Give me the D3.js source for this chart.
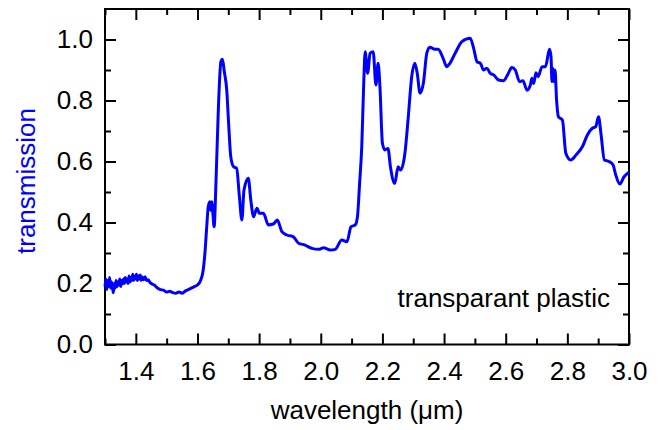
<!DOCTYPE html>
<html><head><meta charset="utf-8">
<script src="https://cdn.jsdelivr.net/npm/d3@7"></script>
<style>body{margin:0;background:#fff}text{font-family:"Liberation Sans",Arial,sans-serif}</style>
</head><body>
<script>
const wavelength = [1.300,1.303,1.306,1.309,1.312,1.315,1.318,1.321,1.324,1.327,1.330,1.333,1.336,1.339,1.342,1.345,1.348,1.351,1.354,1.357,1.360,1.363,1.366,1.369,1.372,1.375,1.378,1.381,1.384,1.387,1.390,1.393,1.396,1.399,1.402,1.405,1.408,1.411,1.414,1.417,1.420,1.425,1.430,1.435,1.440,1.445,1.450,1.460,1.470,1.480,1.490,1.500,1.510,1.520,1.530,1.540,1.550,1.560,1.570,1.580,1.590,1.600,1.610,1.618,1.625,1.630,1.635,1.640,1.643,1.647,1.650,1.654,1.660,1.668,1.676,1.681,1.687,1.695,1.701,1.708,1.717,1.727,1.736,1.744,1.751,1.765,1.773,1.782,1.793,1.801,1.814,1.830,1.846,1.859,1.874,1.890,1.911,1.928,1.949,1.971,1.993,2.009,2.031,2.047,2.068,2.085,2.098,2.112,2.119,2.126,2.133,2.139,2.144,2.152,2.160,2.170,2.179,2.186,2.192,2.200,2.208,2.218,2.226,2.240,2.251,2.259,2.273,2.284,2.295,2.305,2.313,2.322,2.333,2.344,2.354,2.370,2.381,2.397,2.409,2.419,2.436,2.458,2.485,2.496,2.507,2.518,2.528,2.539,2.550,2.561,2.577,2.593,2.606,2.620,2.631,2.645,2.656,2.669,2.680,2.685,2.691,2.698,2.705,2.718,2.729,2.742,2.747,2.750,2.753,2.756,2.760,2.765,2.771,2.784,2.795,2.811,2.828,2.849,2.865,2.881,2.892,2.901,2.909,2.920,2.935,2.948,2.957,2.970,2.984,3.000];
const transmission = [0.19,0.215,0.18,0.21,0.19,0.22,0.185,0.205,0.19,0.17,0.20,0.185,0.21,0.19,0.205,0.195,0.215,0.19,0.21,0.2,0.215,0.2,0.22,0.205,0.215,0.2,0.225,0.205,0.22,0.21,0.23,0.21,0.225,0.215,0.23,0.21,0.225,0.215,0.228,0.21,0.222,0.212,0.222,0.21,0.212,0.205,0.20,0.195,0.185,0.18,0.178,0.172,0.175,0.17,0.168,0.172,0.168,0.175,0.18,0.185,0.19,0.195,0.21,0.24,0.31,0.386,0.452,0.468,0.44,0.468,0.43,0.386,0.53,0.78,0.927,0.935,0.895,0.834,0.726,0.616,0.583,0.578,0.485,0.408,0.507,0.545,0.474,0.419,0.447,0.43,0.43,0.392,0.395,0.408,0.37,0.359,0.353,0.332,0.326,0.315,0.312,0.317,0.31,0.312,0.343,0.337,0.386,0.392,0.419,0.528,0.649,0.845,0.96,0.889,0.955,0.96,0.851,0.922,0.845,0.66,0.638,0.643,0.583,0.528,0.583,0.572,0.627,0.747,0.878,0.922,0.889,0.824,0.857,0.955,0.975,0.968,0.968,0.938,0.911,0.922,0.955,0.993,1.004,0.971,0.927,0.922,0.90,0.906,0.889,0.884,0.867,0.865,0.884,0.908,0.90,0.862,0.865,0.834,0.851,0.873,0.856,0.891,0.878,0.911,0.911,0.968,0.944,0.862,0.906,0.862,0.90,0.802,0.747,0.736,0.627,0.605,0.621,0.649,0.687,0.709,0.714,0.747,0.692,0.605,0.60,0.589,0.556,0.526,0.55,0.565];
const xTicks = [1.4,1.6,1.8,2.0,2.2,2.4,2.6,2.8,3.0];
const yTicks = [0.0,0.2,0.4,0.6,0.8,1.0];
const xMinor = [1.3,1.5,1.7,1.9,2.1,2.3,2.5,2.7,2.9];
const yMinor = [0.1,0.3,0.5,0.7,0.9];
const xLabel = "wavelength (μm)";
const yLabel = "transmission";
const note = "transparant plastic";

const W = 662, H = 430;
const m = {l:105, r:33, t:9, b:85.5};
const svg = d3.select("body").append("svg").attr("width",W).attr("height",H);
const x = d3.scaleLinear().domain([1.3,3.0]).range([m.l, W-m.r]);
const y = d3.scaleLinear().domain([0,1.1]).range([H-m.b, m.t]);
const fs = 26;

function ax(gen, tr){ return svg.append("g").attr("transform",tr).call(gen); }
function style(g){ g.select(".domain").remove(); g.selectAll("line").attr("stroke","#000").attr("stroke-width",2); g.selectAll("text").attr("font-size",fs).attr("fill","#000"); }
style(ax(d3.axisBottom(x).tickValues(xTicks).tickSize(-11).tickPadding(17).tickFormat(d3.format(".1f")), `translate(0,${y(0)})`));
style(ax(d3.axisBottom(x).tickValues(xMinor).tickSize(-6).tickFormat(""), `translate(0,${y(0)})`));
style(ax(d3.axisTop(x).tickValues(xTicks).tickSize(-11).tickFormat(""), `translate(0,${m.t})`));
style(ax(d3.axisTop(x).tickValues(xMinor).tickSize(-6).tickFormat(""), `translate(0,${m.t})`));
style(ax(d3.axisLeft(y).tickValues(yTicks).tickSize(-11).tickPadding(12).tickFormat(d3.format(".1f")), `translate(${m.l},0)`));
style(ax(d3.axisLeft(y).tickValues(yMinor).tickSize(-6).tickFormat(""), `translate(${m.l},0)`));
style(ax(d3.axisRight(y).tickValues(yTicks).tickSize(-11).tickFormat(""), `translate(${W-m.r},0)`));
style(ax(d3.axisRight(y).tickValues(yMinor).tickSize(-6).tickFormat(""), `translate(${W-m.r},0)`));

svg.append("rect").attr("x",m.l).attr("y",m.t).attr("width",W-m.l-m.r).attr("height",y(0)-m.t)
  .attr("fill","none").attr("stroke","#000").attr("stroke-width",2);

const pts = wavelength.map((d,i)=>[d, transmission[i]]);
svg.append("path").datum(pts).attr("fill","none").attr("stroke","#0000ff").attr("stroke-width",3)
  .attr("stroke-linejoin","round")
  .attr("d", d3.line().x(d=>x(d[0])).y(d=>y(d[1])).curve(d3.curveMonotoneX));

svg.append("text").attr("x",(m.l+W-m.r)/2).attr("y",419).attr("text-anchor","middle").attr("font-size",fs).text(xLabel);
svg.append("text").attr("transform",`translate(35,181) rotate(-90)`).attr("text-anchor","middle").attr("font-size",fs).attr("fill","#0000ff").text(yLabel);
svg.append("text").attr("x",610).attr("y",307).attr("text-anchor","end").attr("font-size",fs).text(note);
</script>
</body></html>
